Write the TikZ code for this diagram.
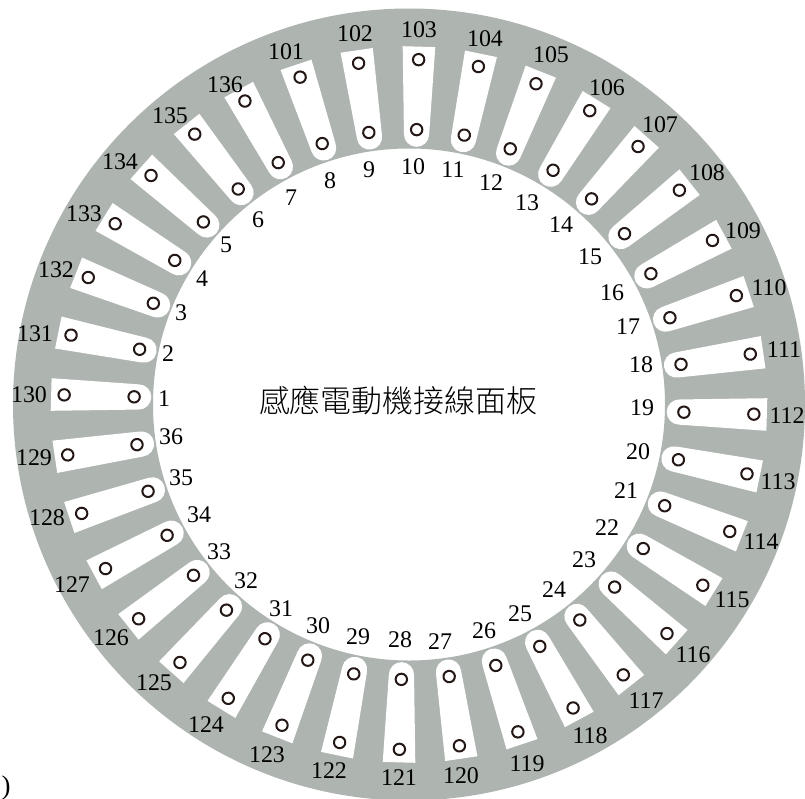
\documentclass[tikz,border=0pt]{standalone}
\usepackage{fontspec}
\setmainfont{Liberation Serif}
\newfontfamily\cjk{Noto Sans CJK TC Light}
\definecolor{ringgray}{HTML}{AEB4B0}
\definecolor{holeink}{HTML}{231815}
\tikzset{
  lab/.style={inner sep=0pt,text=black,font=\fontsize{24}{24}\selectfont},
  hole/.style={draw=holeink,line width=2bp,fill=white},
  slotshape/.style={fill=white,draw=none},
}
\begin{document}
\begin{tikzpicture}[x=1bp,y=1bp,line width=1bp]
\useasboundingbox (0,0) rectangle (805,-799);
\fill[white] (0,0) rectangle (805,-799);
\fill[ringgray,even odd rule] (409,-404.5) circle[radius=396] (409,-404.5) circle[radius=256];
\foreach \k in {1,...,36}{
  \pgfmathsetmacro{\ang}{178.4-(\k-1)*10}
  \begin{scope}[shift={(409,-404.5)},rotate=\ang]
    \fill[slotshape] (358,16.3) -- (270.4,12.6) arc[start angle=90,end angle=270,radius=12.6] -- (358,-16.3) -- cycle;
    \draw[hole] (275,0) circle[radius=5.7];
    \draw[hole] (345,0) circle[radius=5.7];
  \end{scope}
}
\foreach \t/\x/\y in {1/164/399,2/168/354,3/181/313,4/202/279,5/226/245,6/258/220,7/291/198,8/330/181,9/369/170,10/413/167,11/453/170,12/491/183,13/527/203,14/561/225,15/590/257,16/612/293,17/628/327,18/641/365,19/642/408,20/638/452,21/626/491,22/607/528,23/584/560,24/554/590,25/520/614,26/484/631,27/440/642,28/400/640,29/358/637,30/318/626,31/281/609,32/246/581,33/219/552,34/199/515,35/181/478,36/171/437,
101/286/52,102/355/34,103/419/30,104/485/39,105/551/55,106/607/88,107/660/125,108/707/173,109/743/231,110/769/288,111/784/350,112/787/416,113/778/482,114/761/542,115/732/600,116/693/655,117/646/701,118/590/736,119/527/764,120/461/776,121/399/778,122/329/771,123/267/755,124/206/725,125/154/683,126/111/638,127/72/585,128/47/518,129/34/458,130/29/395,131/35/334,132/56/270,133/84/214,134/120/162,135/170/116,136/225/85}{
  \node[lab] (n\t) at (\x,-\y) {\t};
}
\node[inner sep=0pt,font=\cjk\fontsize{31}{31}\selectfont] (title) at (398,-400) {感應電動機接線面板};
\node[inner sep=0pt,anchor=west,font=\fontsize{27}{27}\selectfont] (paren) at (1,-788) {)};
\end{tikzpicture}
\end{document}
